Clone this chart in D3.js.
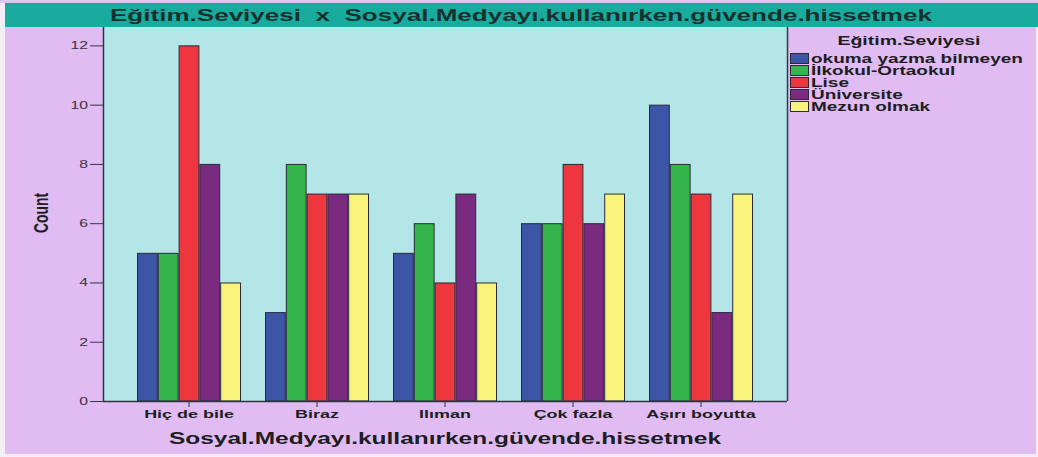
<!DOCTYPE html>
<html>
<head>
<meta charset="utf-8">
<script src="https://cdn.jsdelivr.net/npm/d3@7"></script>
<style>
  html, body { margin: 0; padding: 0; background: #f3eef6; }
  svg { display: block; }
  text { font-family: "Liberation Sans", Arial, sans-serif; }
</style>
</head>
<body>
<svg id="chart" width="1038" height="457"></svg>
<script>
// Counts per response category, one array per education level
const categories = ["Hiç de bile", "Biraz", "Ilıman", "Çok fazla", "Aşırı boyutta"];
const seriesNames = ["okuma yazma bilmeyen", "İlkokul-Ortaokul", "Lise", "Üniversite", "Mezun olmak"];
const okumaYazmaBilmeyen = [5, 3, 5, 6, 10];
const ilkokulOrtaokul = [5, 8, 6, 6, 8];
const lise = [12, 7, 4, 8, 7];
const universite = [8, 7, 7, 6, 3];
const mezunOlmak = [4, 7, 4, 7, 7];
const yTickValues = [0, 2, 4, 6, 8, 10, 12];
const seriesColors = ["#3d55a6", "#35b44b", "#ee363f", "#7b2b7f", "#f8f37a"];

const chartTitle = "Eğitim.Seviyesi  x  Sosyal.Medyayı.kullanırken.güvende.hissetmek";
const xTitle = "Sosyal.Medyayı.kullanırken.güvende.hissetmek";
const yTitle = "Count";
const legendTitle = "Eğitim.Seviyesi";

const seriesValues = [okumaYazmaBilmeyen, ilkokulOrtaokul, lise, universite, mezunOlmak];
const rows = categories.map((c, i) => ({
  category: c,
  values: seriesNames.map((s, j) => ({ series: s, value: seriesValues[j][i], color: seriesColors[j] }))
}));

const svg = d3.select("#chart");
const W = 1038, H = 457;
const plot = { left: 103, right: 787, top: 27, bottom: 401 };

// horizontally widen text glyphs by a fixed factor
function widen(sel, k) {
  sel.each(function () {
    const len = this.getComputedTextLength();
    d3.select(this).attr("textLength", len * k).attr("lengthAdjust", "spacingAndGlyphs");
  });
}

// page background and frame
svg.append("rect").attr("x", 0).attr("y", 0).attr("width", W).attr("height", H).attr("fill", "#f3eef6");
svg.append("rect").attr("x", 0).attr("y", 0).attr("width", W).attr("height", 3).attr("fill", "#d9c9ee");
svg.append("rect").attr("x", 5).attr("y", 3).attr("width", W - 7).attr("height", 451).attr("fill", "#e0bcf2");

// title bar
svg.append("rect").attr("x", 5).attr("y", 3).attr("width", W - 5).attr("height", 24).attr("fill", "#1aab9f");
svg.append("text")
  .attr("x", 521).attr("y", 21)
  .attr("text-anchor", "middle")
  .style("white-space", "pre")
  .attr("font-size", 16.5).attr("font-weight", "bold").attr("fill", "#16302d")
  .attr("textLength", 822).attr("lengthAdjust", "spacingAndGlyphs")
  .text(chartTitle);

// plot background
svg.append("rect")
  .attr("x", plot.left).attr("y", plot.top)
  .attr("width", plot.right - plot.left).attr("height", plot.bottom - plot.top)
  .attr("fill", "#b4e6e8");

// scales
const x = d3.scaleBand()
  .domain(categories)
  .range([plot.left, plot.right])
  .paddingInner(0.1875)
  .paddingOuter(0.2656);
const xs = d3.scaleBand().domain(seriesNames).range([0, x.bandwidth()]);
const y = d3.scaleLinear().domain([0, 12.62]).range([plot.bottom, plot.top]);

// bars
const groups = svg.append("g").selectAll("g").data(rows).join("g")
  .attr("transform", d => `translate(${x(d.category)},0)`);
groups.selectAll("rect").data(d => d.values).join("rect")
  .attr("x", d => xs(d.series) + 0.5)
  .attr("y", d => y(d.value) + 0.5)
  .attr("width", xs.bandwidth() - 1)
  .attr("height", d => y(0) - y(d.value) - 0.5)
  .attr("fill", d => d.color)
  .attr("stroke", "#2a2a3a").attr("stroke-width", 1);

// right border of the plot
svg.append("line")
  .attr("x1", plot.right + 0.5).attr("x2", plot.right + 0.5)
  .attr("y1", plot.top).attr("y2", plot.bottom)
  .attr("stroke", "#333a48").attr("stroke-width", 1.5);

// y axis
const yAxis = svg.append("g")
  .attr("transform", `translate(${plot.left},0)`)
  .call(d3.axisLeft(y).tickValues(yTickValues).tickSize(13).tickPadding(2).tickSizeOuter(0));
yAxis.select(".domain").attr("stroke", "#2f3442").attr("stroke-width", 1.5)
  .attr("d", `M0.5,${plot.top}V${plot.bottom}`);
yAxis.selectAll(".tick line").attr("stroke", "#3a3340");
yAxis.selectAll(".tick text")
  .attr("font-size", 10.5).attr("fill", "#3a3340")
  .attr("font-family", "'Liberation Sans', Arial, sans-serif")
  .call(widen, 1.5);

// x axis
const xAxis = svg.append("g")
  .attr("transform", `translate(0,${plot.bottom})`)
  .call(d3.axisBottom(x).tickSize(6).tickPadding(3).tickSizeOuter(0));
xAxis.select(".domain").attr("stroke", "#2f3442").attr("stroke-width", 1.5)
  .attr("d", `M${plot.left},0.5H${plot.right}`);
xAxis.selectAll(".tick line").attr("stroke", "#3a3340");
xAxis.selectAll(".tick text")
  .attr("font-size", 11.5).attr("font-weight", "bold").attr("fill", "#1d1d22")
  .attr("font-family", "'Liberation Sans', Arial, sans-serif")
  .call(widen, 1.56);

// axis titles
svg.append("text")
  .attr("x", (plot.left + plot.right) / 2).attr("y", 444)
  .attr("text-anchor", "middle")
  .attr("font-size", 16.5).attr("font-weight", "bold").attr("fill", "#1d1d22")
  .attr("textLength", 552).attr("lengthAdjust", "spacingAndGlyphs")
  .text(xTitle);
svg.append("text")
  .attr("transform", "translate(48,213) scale(1.4,1) rotate(-90)")
  .attr("text-anchor", "middle")
  .attr("font-size", 15).attr("font-weight", "bold").attr("fill", "#1d1d22")
  .attr("textLength", 40).attr("lengthAdjust", "spacingAndGlyphs")
  .text(yTitle);

// legend
const legend = svg.append("g");
legend.append("text")
  .attr("x", 909).attr("y", 45)
  .attr("text-anchor", "middle")
  .attr("font-size", 13).attr("font-weight", "bold").attr("fill", "#1d1d22")
  .text(legendTitle)
  .call(widen, 1.5);
const items = legend.selectAll("g.item").data(seriesNames.map((s, i) => ({ s, c: seriesColors[i] })))
  .join("g").attr("class", "item")
  .attr("transform", (d, i) => `translate(790,${53 + i * 12})`);
items.append("rect")
  .attr("x", 0.5).attr("y", 0.5).attr("width", 18).attr("height", 10)
  .attr("fill", d => d.c).attr("stroke", "#2a2a3a").attr("stroke-width", 1);
items.append("text")
  .attr("x", 21).attr("y", 10)
  .attr("font-size", 12).attr("font-weight", "bold").attr("fill", "#1d1d22")
  .text(d => d.s)
  .call(widen, 1.58);
</script>
</body>
</html>
